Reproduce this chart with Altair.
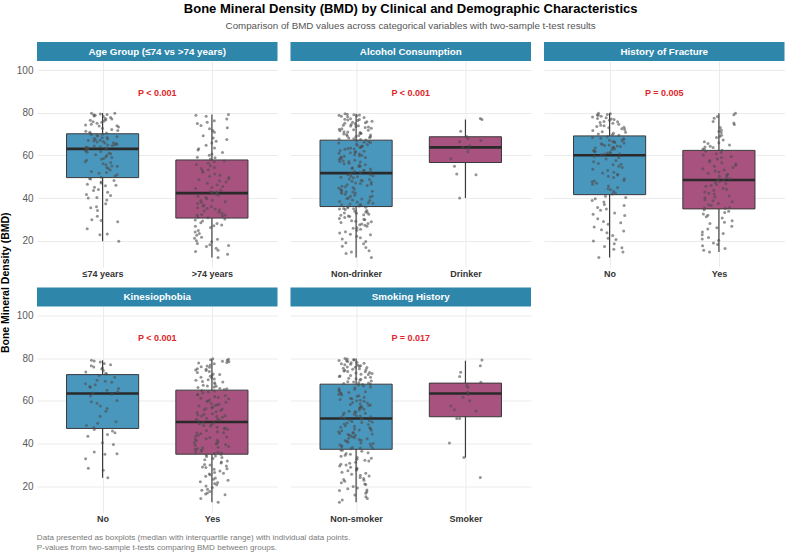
import altair as alt
import pandas as pd

# ---------------------------------------------------------------- data
PANEL_TITLES = [
    "Age Group (≤74 vs >74 years)",
    "Alcohol Consumption",
    "History of Fracture",
    "Kinesiophobia",
    "Smoking History",
]
GROUP_LABELS = [
    ["≤74 years", ">74 years"],
    ["Non-drinker", "Drinker"],
    ["No", "Yes"],
    ["No", "Yes"],
    ["Non-smoker", "Smoker"],
]
P_LABELS = ["P < 0.001", "P < 0.001", "P = 0.005", "P < 0.001", "P = 0.017"]

# five-number box summaries, [first group, second group] per panel
Q1 = [[49.6, 30.6], [36.0, 56.7], [41.6, 34.9], [47.1, 35.0], [37.3, 52.6]]
MEDIAN = [[63.1, 42.3], [51.7, 63.8], [60.1, 48.5], [63.5, 50.1], [51.8, 63.5]]
Q3 = [[70.2, 57.9], [67.2, 68.8], [69.2, 62.4], [72.4, 65.1], [67.9, 68.4]]
WHISKER_LO = [[19.7, 12.1], [12.1, 40.0], [12.1, 14.6], [23.9, 12.4], [12.4, 33.4]]
WHISKER_HI = [[80.0, 79.3], [79.6, 76.9], [80.0, 79.8], [79.1, 79.6], [80.0, 78.9]]

# individual BMD values
age_le74 = [
    79.8, 78.6, 79.5, 76.2, 77.9, 74.7, 79.1, 72.8, 75.6, 78.3, 71.4, 76.8, 70.6, 73.9, 79.9,
    75.1, 77.4, 72.2, 74.3, 78.9, 70.9, 76.5, 73.4, 79.3, 71.8, 75.9, 77.1, 70.3, 74.0,
    69.7, 66.3, 64.1, 68.5, 63.4, 67.2, 65.6, 69.1, 63.9, 66.8, 68.0, 64.7, 65.1, 67.7, 63.2,
    69.9, 66.0, 64.4, 68.8, 65.9, 63.6, 67.0, 66.6, 64.9, 68.3, 63.7, 65.3, 67.5, 69.4,
    62.8, 59.4, 56.1, 53.2, 61.5, 57.8, 50.4, 60.3, 54.9, 62.1, 58.6, 51.7, 55.6, 61.9, 49.8,
    57.0, 60.8, 53.9, 59.0, 52.5, 62.6, 56.7, 50.9, 58.2, 54.3, 61.2, 55.1, 60.0, 52.0,
    49.2, 47.6, 45.8, 48.3, 41.2, 46.5, 44.0, 40.3, 48.9, 42.7, 35.4, 47.1, 45.1, 37.3, 41.7,
    34.1, 46.0, 29.8, 40.0, 31.4, 43.5, 28.9, 35.9, 25.6, 22.8, 29.4, 23.1, 39.1, 19.7,
]
age_gt74 = [
    79.3, 77.1, 75.6, 78.4, 73.0, 68.2, 70.9, 76.3, 63.5, 72.6, 66.7, 59.2, 74.1, 61.4, 69.3,
    64.8, 78.9, 58.3, 67.5, 60.7, 71.8, 65.9, 62.6, 75.0, 58.9, 63.2, 60.1,
    57.4, 55.2, 52.8, 49.6, 46.9, 44.5, 56.3, 53.9, 50.7, 48.1, 45.4, 43.0, 57.0, 54.4, 51.3,
    47.5, 44.9, 42.6, 55.8, 52.1, 49.0, 46.2, 43.7, 42.9, 53.3, 50.2, 48.6,
    41.9, 39.7, 37.4, 35.1, 32.8, 31.0, 40.8, 38.3, 36.0, 33.9, 31.6, 41.3, 39.0, 36.6, 34.4,
    32.3, 30.8, 40.2, 37.9, 35.5, 33.3, 31.9, 42.1, 38.8, 34.8, 32.0, 36.3,
    30.1, 28.4, 26.7, 24.0, 21.6, 19.5, 17.2, 14.9, 12.1, 29.2, 27.3, 23.4, 20.6, 18.1, 16.4,
    29.7, 26.2, 22.5, 19.9, 17.7, 15.5, 28.0, 24.8, 21.1, 18.6, 27.0, 13.6,
]
alc_non = [
    79.6, 78.2, 79.1, 76.4, 77.8, 75.1, 79.4, 73.6, 74.9, 78.7, 72.3, 76.9, 70.8, 75.6, 71.9,
    77.3, 69.4, 73.1, 78.9, 68.2, 74.2, 70.1, 76.1, 67.5, 72.8, 69.9, 75.4, 71.2, 68.8, 77.0,
    73.9, 67.9, 70.5, 79.0, 72.1, 68.4, 74.6, 71.6, 69.2, 76.7, 67.3, 73.4, 70.3, 78.4, 68.9,
    75.8, 71.0, 69.6, 74.0, 67.7, 72.6,
    66.9, 64.2, 61.8, 59.3, 66.1, 57.2, 63.5, 55.0, 60.7, 65.4, 53.1, 58.6, 62.4, 66.5, 56.4,
    52.3, 61.1, 64.8, 54.2, 59.9, 63.0, 57.8, 65.9, 52.8, 60.1, 55.7, 62.9, 58.1, 66.2, 53.6,
    61.5, 56.9, 64.5, 59.0, 52.0, 63.8, 57.5, 60.4, 54.8, 65.1, 62.0, 58.9, 53.9, 61.3, 56.1,
    64.0, 59.6, 52.5, 63.3, 55.4, 57.0,
    51.4, 48.7, 45.3, 42.1, 50.2, 39.8, 47.4, 37.2, 44.0, 49.5, 41.3, 36.6, 46.8, 43.2, 50.9,
    38.4, 45.9, 40.5, 48.1, 37.8, 44.7, 42.8, 51.0, 39.1, 46.2, 36.3, 49.0, 41.8, 43.7, 47.9,
    38.9, 45.0, 40.0, 50.5, 37.5, 44.3, 42.4, 48.4, 39.5, 46.5, 36.9, 41.0, 49.8, 43.0, 38.1,
    47.1, 40.8, 45.6, 37.0, 42.9, 50.0,
    35.7, 33.2, 30.4, 27.8, 34.6, 24.9, 31.9, 22.1, 29.3, 35.1, 19.6, 26.7, 33.8, 17.4, 28.5,
    32.4, 23.6, 35.4, 15.2, 30.9, 25.8, 34.1, 20.7, 28.0, 12.1, 31.3, 26.1, 33.5, 18.5, 29.8,
    35.9, 23.0, 27.2, 13.9, 32.8, 21.4, 30.0, 34.9, 16.8, 25.3, 28.9, 33.0, 19.0, 31.6, 24.2,
    35.0, 27.5, 14.6, 29.1, 22.7, 32.1,
]
alc_drinker = [
    76.9, 77.4, 71.4, 66.4, 67.0, 68.9, 68.0, 61.7, 63.3, 63.9, 64.6, 58.5, 55.0, 51.0, 51.3,
    40.0,
]
frac_no = [
    79.9, 78.4, 79.3, 77.1, 75.8, 78.9, 74.2, 76.6, 73.0, 79.6, 71.8, 75.2, 70.4, 77.7, 72.6,
    76.0, 69.7, 74.7, 78.1, 71.1, 73.6, 79.0, 70.9, 76.9, 72.2, 75.5, 69.5, 77.4, 73.3, 70.1,
    74.0,
    68.8, 66.4, 63.9, 61.2, 67.6, 64.7, 62.3, 68.1, 65.5, 60.8, 66.9, 63.1, 61.7, 67.2, 64.2,
    60.4, 65.9, 62.8, 68.5, 63.5, 61.0, 66.1, 64.9, 62.0, 67.9, 65.2, 60.6, 63.7, 66.6, 61.5,
    64.4,
    59.6, 57.0, 54.3, 51.8, 49.1, 46.5, 43.9, 58.4, 55.6, 52.9, 50.2, 47.7, 45.0, 42.3, 59.0,
    56.2, 53.5, 50.8, 48.3, 45.7, 43.1, 57.7, 54.9, 52.1, 49.6, 47.0, 44.4, 41.9, 55.9, 51.2,
    48.0,
    40.9, 38.2, 35.6, 33.0, 30.3, 27.7, 25.1, 22.4, 19.8, 17.2, 14.6, 12.1, 39.7, 37.0, 34.3,
    31.8, 29.0, 26.4, 23.7, 21.1, 18.5, 15.9, 40.3, 36.5, 32.4, 28.4, 24.5, 20.5, 16.6, 38.8,
    34.9,
]
frac_yes = [
    79.8, 79.1, 77.5, 76.0, 74.6, 73.2, 72.0, 70.8, 69.5, 68.4, 67.3, 66.4, 65.6, 64.9, 64.3,
    63.7, 63.1, 78.3, 75.3, 71.4, 68.9, 66.0, 64.0, 62.8, 62.5,
    62.0, 60.8, 59.5, 58.3, 57.1, 56.0, 54.9, 53.8, 52.7, 51.7, 50.8, 49.9, 49.1, 48.7, 61.4,
    59.0, 56.6, 54.3, 52.2, 50.3, 60.2, 57.7, 55.4, 53.2, 51.2,
    48.2, 47.3, 46.4, 45.5, 44.6, 43.7, 42.8, 41.9, 41.0, 40.1, 39.2, 38.3, 37.4, 36.5, 35.6,
    35.1, 47.8, 45.9, 44.1, 42.3, 40.5, 38.7, 36.9, 35.3, 46.8,
    34.5, 33.2, 31.9, 30.6, 29.3, 28.0, 26.7, 25.4, 24.1, 22.8, 21.5, 20.2, 18.9, 17.6, 16.3,
    14.6, 33.8, 31.2, 28.6, 26.0, 23.4, 20.8, 18.2, 15.5, 32.5,
]
kin_no = [
    79.1, 78.8, 78.3, 77.6, 77.0, 76.5, 76.0, 75.5, 75.0, 74.3, 73.6, 73.0, 72.6,
    72.0, 71.2, 69.8, 69.3, 68.8, 68.1, 67.6, 66.8, 66.4, 65.9, 65.1, 64.4, 63.8,
    63.2, 62.4, 60.2, 59.6, 58.9, 57.6, 56.5, 55.2, 52.8, 50.3, 49.5, 48.5, 47.6,
    46.6, 45.9, 45.1, 44.3, 43.4, 40.4, 39.6, 36.0, 35.2, 35.0, 32.8, 28.4, 27.5, 23.9,
]
kin_yes = [
    79.6, 78.1, 76.4, 74.9, 79.2, 72.7, 70.3, 77.5, 68.6, 75.8, 66.9, 73.4, 71.2, 78.7, 67.4,
    74.3, 69.8, 76.9, 65.7, 72.0, 79.9, 70.8, 66.3, 75.2, 68.0, 77.8, 73.8, 65.4, 71.6, 69.1,
    78.4, 67.0, 74.6, 70.0, 76.1, 65.9, 72.4, 68.9, 79.4, 66.6,
    64.7, 62.1, 59.4, 56.8, 54.0, 51.3, 63.8, 61.0, 58.2, 55.5, 52.7, 64.2, 60.5, 57.6, 54.9,
    51.9, 63.1, 59.9, 56.2, 53.4, 50.6, 62.6, 58.8, 55.9, 52.3, 61.6, 57.1, 53.8, 50.9, 64.9,
    60.0, 56.5, 52.9, 62.9, 58.5, 54.6, 51.5, 61.3, 57.9, 53.1,
    49.8, 47.3, 44.6, 41.9, 39.2, 36.5, 48.9, 46.1, 43.4, 40.7, 38.0, 35.6, 49.3, 45.5, 42.8,
    39.9, 37.3, 48.2, 44.9, 41.3, 38.6, 35.9, 47.7, 43.9, 40.4, 37.6, 49.6, 46.7, 42.2, 39.5,
    36.2, 48.5, 45.1, 41.6, 38.3, 35.3, 47.0, 43.1, 40.0, 36.9,
    34.6, 33.0, 30.9, 28.7, 26.4, 23.8, 21.2, 18.5, 15.9, 12.4, 34.1, 31.8, 29.5, 27.1, 24.6,
    22.0, 19.4, 16.8, 14.2, 33.5, 30.2, 27.9, 25.3, 22.7, 20.1, 17.5, 34.8, 32.4, 29.0, 26.0,
    23.2, 20.6, 18.0, 33.9, 31.3, 28.2, 25.7, 21.7, 16.3, 29.9,
]
smoke_non = [
    80.0, 78.6, 79.3, 76.9, 77.7, 74.4, 79.7, 73.1, 75.9, 78.2, 71.5, 76.3, 69.9, 74.9, 72.4,
    77.3, 68.6, 73.7, 79.0, 70.7, 75.4, 68.2, 72.9, 76.6, 69.4, 78.9, 71.0, 74.1, 67.9, 77.0,
    72.0, 79.5, 70.2, 75.1, 68.9, 73.4, 78.0, 71.8, 76.0, 69.0, 74.7, 68.4, 72.6, 77.5, 70.5,
    75.7, 73.9, 71.2,
    67.5, 65.2, 62.8, 60.1, 57.4, 54.7, 52.2, 66.6, 64.0, 61.3, 58.6, 55.8, 53.1, 67.1, 63.5,
    60.7, 57.9, 55.2, 52.6, 65.8, 62.2, 59.3, 56.5, 53.8, 66.2, 63.0, 59.9, 56.9, 54.2, 51.9,
    64.6, 61.7, 58.1, 55.0, 52.9, 67.7, 64.3, 60.4, 57.0, 53.5, 65.5, 62.5, 59.0, 56.1, 63.7,
    61.0, 58.4, 54.4,
    51.5, 49.2, 46.8, 44.3, 41.9, 39.4, 37.5, 50.8, 48.4, 46.0, 43.6, 41.1, 38.7, 51.1, 47.7,
    45.2, 42.8, 40.3, 37.9, 50.1, 47.1, 44.7, 42.2, 39.8, 51.7, 48.9, 45.6, 43.1, 40.6, 38.2,
    49.6, 46.4, 44.0, 41.4, 39.0, 50.4, 47.4, 45.0, 42.5, 40.0, 37.7, 48.1, 43.9, 41.6, 49.9,
    46.2, 38.5, 44.5,
    37.0, 35.3, 33.4, 31.2, 28.9, 26.5, 24.0, 21.6, 19.1, 16.7, 14.2, 12.4, 36.4, 34.5, 32.6,
    30.3, 28.0, 25.6, 23.1, 20.7, 18.2, 15.8, 36.8, 34.0, 31.8, 29.5, 27.2, 24.8, 22.3, 19.8,
    17.3, 13.5, 35.7, 33.1, 30.8, 28.4, 26.0, 23.6, 21.0, 18.8, 35.0, 32.2, 29.9, 27.6, 25.1,
    22.7, 17.9, 15.0,
]
smoke_yes = [
    79.3, 76.6, 73.5, 71.5, 68.8, 67.3, 66.5, 64.2, 63.0, 61.8, 60.1, 57.6, 55.9, 55.3, 51.8,
    51.8, 40.3, 33.4, 24.1,
]

POINTS = [
    [age_le74, age_gt74],
    [alc_non, alc_drinker],
    [frac_no, frac_yes],
    [kin_no, kin_yes],
    [smoke_non, smoke_yes],
]

TITLE = "Bone Mineral Density (BMD) by Clinical and Demographic Characteristics"
SUBTITLE = "Comparison of BMD values across categorical variables with two-sample t-test results"
Y_TITLE = "Bone Mineral Density (BMD)"
FOOTNOTE = [
    "Data presented as boxplots (median with interquartile range) with individual data points.",
    "P-values from two-sample t-tests comparing BMD between groups.",
]

# ---------------------------------------------------------------- styling
FONT = "Liberation Sans"
BLUE_FILL = "#4A97BE"
MAGENTA_FILL = "#A8527F"
STRIP = "#2E86AB"
P_RED = "#E0262B"
GRID = "#EBEBEB"
W, H = 240.5, 206
Y_DOMAIN = [7.6, 104.4]
X_DOMAIN = [0.4, 2.6]
HALF_BOX = 0.33
JITTER = 0.16
P_Y = 89.4


def panel(i, show_y):
    labels = GROUP_LABELS[i]
    boxes = pd.DataFrame({
        "pos": [1, 2],
        "lo": WHISKER_LO[i], "q1": Q1[i], "med": MEDIAN[i],
        "q3": Q3[i], "hi": WHISKER_HI[i],
    })
    g1, g2 = POINTS[i]
    pts = pd.DataFrame({
        "pos": [1] * len(g1) + [2] * len(g2),
        "bmd": g1 + g2,
        "k": list(range(len(g1))) + list(range(len(g2))),
    })

    xs = alt.Scale(domain=X_DOMAIN, nice=False, zero=False)
    ys = alt.Scale(domain=Y_DOMAIN, nice=False, zero=False)
    label_expr = f"datum.value == 1 ? '{labels[0]}' : '{labels[1]}'"
    x_axis = alt.Axis(
        values=[1, 2], labelExpr=label_expr, title=None, domain=False, ticks=False,
        grid=True, gridColor=GRID, gridWidth=1, labelFont=FONT, labelFontSize=9,
        labelFontWeight="bold", labelColor="#333333", labelPadding=2,
    )
    y_axis = alt.Axis(
        values=[20, 40, 60, 80, 100], title=None, domain=False, ticks=False,
        grid=True, gridColor=GRID, gridWidth=1, labels=show_y, labelFont=FONT,
        labelFontSize=10, labelColor="#5A5A5A", labelPadding=4,
    )

    def X(field):
        return alt.X(field, scale=xs, axis=x_axis)

    def Y(field):
        return alt.Y(field, scale=ys, axis=y_axis)

    base_box = alt.Chart(boxes)
    whisker = base_box.mark_rule(color="#333333", strokeWidth=1.1).encode(
        x=X("pos:Q"), y=Y("lo:Q"), y2="hi:Q",
    )
    box = base_box.transform_calculate(
        x0=f"datum.pos - {HALF_BOX}", x1=f"datum.pos + {HALF_BOX}"
    ).mark_rect(stroke="#3A3A3A", strokeWidth=1).encode(
        x=X("x0:Q"), x2="x1:Q", y=Y("q1:Q"), y2="q3:Q",
        fill=alt.condition("datum.pos == 1", alt.value(BLUE_FILL), alt.value(MAGENTA_FILL)),
    )
    median = base_box.transform_calculate(
        x0=f"datum.pos - {HALF_BOX}", x1=f"datum.pos + {HALF_BOX}"
    ).mark_rule(color="#2A2A2A", strokeWidth=2.6).encode(
        x=X("x0:Q"), x2="x1:Q", y=Y("med:Q"),
    )
    dots = alt.Chart(pts).transform_calculate(
        jx="datum.pos + ((abs(sin(datum.k * 12.9898 + datum.pos * 78.233) * 43758.5453) % 1) - 0.5)"
        f" * {2 * JITTER}"
    ).mark_circle(size=9, color="#4D4D4D", opacity=0.6).encode(
        x=X("jx:Q"), y=Y("bmd:Q"),
    )
    ptext = alt.Chart(pd.DataFrame({"t": [P_LABELS[i]]})).mark_text(
        font=FONT, fontSize=9, fontWeight="bold", color=P_RED, baseline="middle"
    ).encode(
        x=alt.X(datum=1.5, scale=xs, axis=x_axis),
        y=alt.Y(datum=P_Y, scale=ys, axis=y_axis),
        text="t:N",
    )
    strip_df = pd.DataFrame({"t": [PANEL_TITLES[i]]})
    strip = alt.Chart(strip_df).mark_rect(color=STRIP).encode(
        x=alt.value(0), x2=alt.value(W), y=alt.value(-19), y2=alt.value(0)
    )
    strip_text = alt.Chart(strip_df).mark_text(
        font=FONT, fontSize=9.8, fontWeight="bold", color="white", baseline="middle"
    ).encode(x=alt.value(W / 2), y=alt.value(-9.5), text="t:N")

    return alt.layer(whisker, box, median, dots, ptext, strip, strip_text).properties(
        width=W, height=H
    )


row1 = alt.hconcat(panel(0, True), panel(1, False), panel(2, False), spacing=12.5)
row2 = alt.hconcat(panel(3, True), panel(4, False), spacing=12.5)

grid = alt.vconcat(row1, row2, spacing=9.5).properties(
    title=alt.TitleParams(
        text=Y_TITLE, orient="left", anchor="middle", font=FONT, fontSize=10.5,
        fontWeight="bold", color="black", offset=5,
    )
)
with_note = alt.vconcat(grid).properties(
    title=alt.TitleParams(
        text=FOOTNOTE, orient="bottom", anchor="start", font=FONT, fontSize=8.1,
        fontWeight="normal", color="#7A7A7A", lineHeight=10, offset=10, dx=36,
    )
)
chart = alt.vconcat(with_note).properties(
    title=alt.TitleParams(
        text=TITLE, subtitle=SUBTITLE, font=FONT, fontSize=13, fontWeight="bold",
        color="black", subtitleFont=FONT, subtitleFontSize=9.75,
        subtitleColor="#555555", anchor="middle", subtitlePadding=5, offset=11, dx=18,
    ),
    padding={"left": 0, "top": 3, "right": 2, "bottom": 2},
).configure_view(stroke=None)

chart.save("out.html", embed_options={"renderer": "svg", "actions": False})
